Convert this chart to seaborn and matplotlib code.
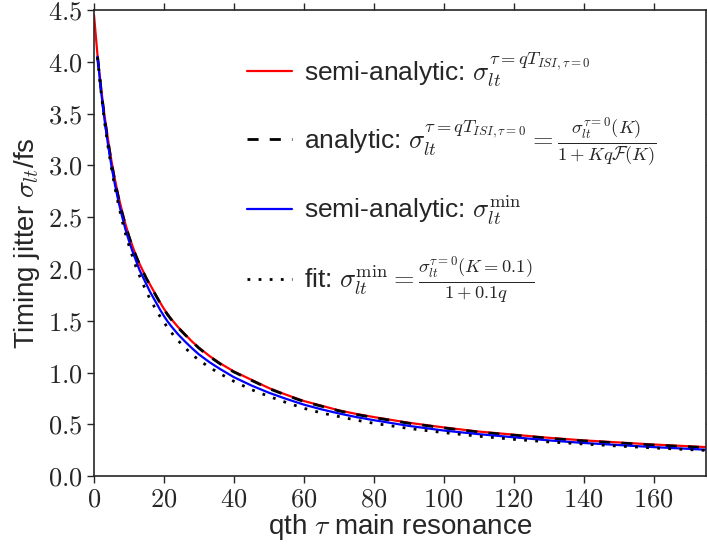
import matplotlib
matplotlib.use("Agg")
import matplotlib.pyplot as plt
import seaborn as sns
from matplotlib.ticker import FuncFormatter

# values
q_red = [0, 1, 2, 3, 4, 5, 6, 7, 8, 9, 10, 11, 12, 13, 14, 15, 16, 17, 18, 19, 20, 21, 22, 24, 26, 28, 30,
         33, 36, 40, 45, 50, 55, 60, 65, 70, 75, 80, 90, 100, 110, 120, 130, 140, 150, 160, 175]
semi_tau = [4.45, 4.06, 3.75, 3.48, 3.25, 3.04, 2.86, 2.70, 2.56, 2.43, 2.32, 2.22, 2.13, 2.05, 1.98, 1.91,
            1.85, 1.79, 1.73, 1.67, 1.615, 1.565, 1.52, 1.44, 1.37, 1.30, 1.24, 1.16, 1.09, 1.01, 0.93, 0.85,
            0.785, 0.725, 0.68, 0.635, 0.60, 0.57, 0.515, 0.47, 0.43, 0.40, 0.37, 0.345, 0.325, 0.305, 0.28]

q_dash = q_red[1:]
analytic_tau = [4.05, 3.73, 3.46, 3.23, 3.02, 2.84, 2.685, 2.545, 2.42, 2.31, 2.21, 2.125, 2.045, 1.975,
                1.905, 1.845, 1.785, 1.725, 1.665, 1.61, 1.56, 1.515, 1.435, 1.365, 1.30, 1.235, 1.155,
                1.085, 1.005, 0.925, 0.845, 0.78, 0.72, 0.675, 0.63, 0.595, 0.565, 0.51, 0.465, 0.425,
                0.395, 0.365, 0.34, 0.32, 0.30, 0.275]

q_blue = q_red[1:]
semi_min = [4.05, 3.72, 3.44, 3.20, 2.99, 2.81, 2.65, 2.51, 2.38, 2.27, 2.17, 2.08, 1.99, 1.92, 1.85, 1.78,
            1.72, 1.66, 1.60, 1.545, 1.495, 1.45, 1.37, 1.30, 1.235, 1.175, 1.10, 1.035, 0.955, 0.875, 0.805,
            0.745, 0.69, 0.645, 0.605, 0.57, 0.54, 0.485, 0.44, 0.405, 0.375, 0.345, 0.32, 0.30, 0.28, 0.255]

q_fit = q_red[1:]
fit_min = [4.045, 3.71, 3.42, 3.18, 2.97, 2.78, 2.62, 2.47, 2.34, 2.225, 2.12, 2.02, 1.935, 1.855, 1.78,
           1.71, 1.65, 1.59, 1.535, 1.485, 1.435, 1.39, 1.31, 1.24, 1.175, 1.12, 1.05, 0.99, 0.915, 0.835,
           0.77, 0.71, 0.655, 0.61, 0.575, 0.54, 0.51, 0.46, 0.42, 0.385, 0.355, 0.33, 0.31, 0.29, 0.272, 0.248]

sns.set_style("ticks")
plt.rcParams['font.family'] = ['Liberation Sans', 'DejaVu Sans']
plt.rcParams['mathtext.fontset'] = 'cm'

fig, ax = plt.subplots(figsize=(7.07, 5.46), dpi=100)
fig.subplots_adjust(left=0.133, right=0.9986, top=0.9817, bottom=0.128)

sns.lineplot(x=q_red, y=semi_tau, ax=ax, color='red', lw=1.6,
             label=r'semi-analytic: $\sigma_{lt}^{\tau=qT_{ISI,\tau=0}}$')
sns.lineplot(x=q_dash, y=analytic_tau, ax=ax, color='black', lw=2.0, linestyle=(0, (4, 4)),
             label=r'analytic: $\sigma_{lt}^{\tau=qT_{ISI,\tau=0}}=\frac{\sigma_{lt}^{\tau=0}(K)}{1+Kq\mathcal{F}(K)}$')
sns.lineplot(x=q_blue, y=semi_min, ax=ax, color='blue', lw=1.6,
             label=r'semi-analytic: $\sigma_{lt}^{\mathrm{min}}$')
sns.lineplot(x=q_fit, y=fit_min, ax=ax, color='black', lw=2.0, linestyle=(0, (1, 3)),
             label=r'fit: $\sigma_{lt}^{\mathrm{min}}=\frac{\sigma_{lt}^{\tau=0}(K=0.1)}{1+0.1q}$')

ax.set_xlim(0, 175)
ax.set_ylim(0, 4.5)
ax.set_xticks(range(0, 161, 20))
ax.set_yticks([i * 0.5 for i in range(10)])
ax.xaxis.set_major_formatter(FuncFormatter(lambda v, p: r'$%d$' % v))
ax.yaxis.set_major_formatter(FuncFormatter(lambda v, p: r'$%.1f$' % v))
ax.tick_params(axis='both', labelsize=19, direction='out', length=5, width=1, top=True, right=True)
for s in ax.spines.values():
    s.set_linewidth(1.2)
    s.set_visible(True)

ax.set_xlabel(r'qth $\tau$ main resonance', fontsize=20, labelpad=0)
ax.set_ylabel(r'Timing jitter $\sigma_{lt}$/fs', fontsize=20, labelpad=4)

ax.legend(loc='upper left', bbox_to_anchor=(0.211, 0.968), frameon=False, fontsize=19,
          labelspacing=1.0, handlelength=1.7, handletextpad=0.45)

fig.savefig('out.png', dpi=100)
